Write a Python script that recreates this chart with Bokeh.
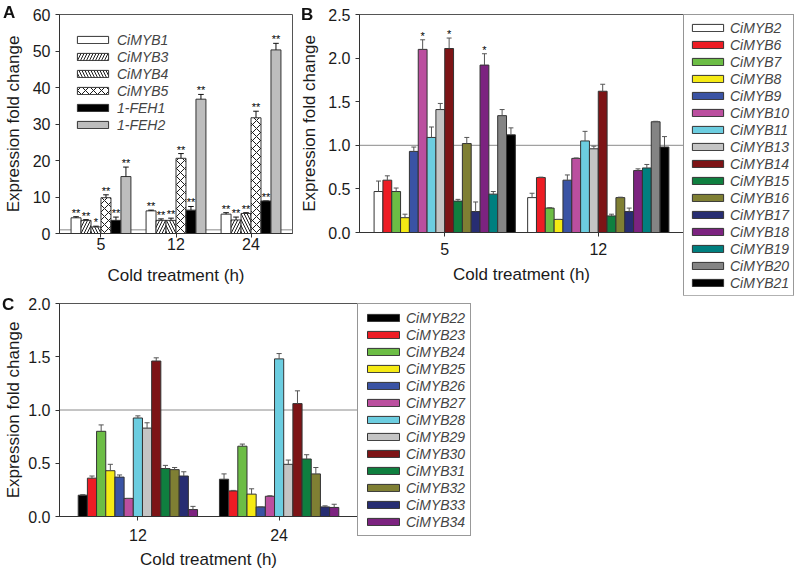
from bokeh.plotting import figure
from bokeh.models import (Range1d, FixedTicker, Span, Legend, LegendItem, Div,
                          ColumnDataSource, NumeralTickFormatter)
from bokeh.layouts import column, row
from bokeh.embed import file_html
from bokeh.resources import INLINE
from bokeh.core.properties import value

# ---------------- Panel A data ----------------
times_A = ["5", "12", "24"]
genes_A = ["CiMYB1", "CiMYB3", "CiMYB4", "CiMYB5", "1-FEH1", "1-FEH2"]
mean_A = [
    [4.3, 6.2, 5.3],
    [3.6, 3.6, 3.7],
    [1.8, 3.6, 5.5],
    [9.8, 20.6, 31.7],
    [3.6, 6.4, 8.9],
    [15.6, 36.8, 50.3],
]
err_A = [
    [0.3, 0.2, 0.4],
    [0.2, 0.4, 0.8],
    [0.2, 0.6, 0.2],
    [0.8, 1.3, 1.8],
    [0.9, 1.0, 0.0],
    [2.6, 1.3, 1.8],
]
sig_A = [
    ["**", "**", "**"],
    ["**", "**", "**"],
    ["*", "**", "**"],
    ["**", "**", "**"],
    ["**", "**", "**"],
    ["**", "**", "**"],
]

# ---------------- Panel B data ----------------
times_B = ["5", "12"]
genes_B = ["CiMYB2", "CiMYB6", "CiMYB7", "CiMYB8", "CiMYB9", "CiMYB10", "CiMYB11",
           "CiMYB13", "CiMYB14", "CiMYB15", "CiMYB16", "CiMYB17", "CiMYB18",
           "CiMYB19", "CiMYB20", "CiMYB21"]
mean_B = [
    [0.47, 0.40], [0.60, 0.63], [0.47, 0.28], [0.17, 0.15],
    [0.93, 0.60], [2.10, 0.85], [1.09, 1.05], [1.41, 0.96],
    [2.11, 1.62], [0.36, 0.19], [1.02, 0.40], [0.24, 0.24],
    [1.92, 0.71], [0.44, 0.74], [1.34, 1.27], [1.12, 0.98],
]
err_B = [
    [0.12, 0.05], [0.05, 0.005], [0.04, 0.005], [0.04, 0.0],
    [0.05, 0.06], [0.11, 0.005], [0.12, 0.11], [0.07, 0.03],
    [0.12, 0.08], [0.02, 0.02], [0.07, 0.005], [0.11, 0.04],
    [0.13, 0.02], [0.03, 0.04], [0.07, 0.005], [0.08, 0.12],
]
sig_B = [
    ["", ""], ["", ""], ["", ""], ["", ""],
    ["", ""], ["*", ""], ["", ""], ["", ""],
    ["*", ""], ["", ""], ["", ""], ["", ""],
    ["*", ""], ["", ""], ["", ""], ["", ""],
]

# ---------------- Panel C data ----------------
times_C = ["12", "24"]
genes_C = ["CiMYB22", "CiMYB23", "CiMYB24", "CiMYB25", "CiMYB26", "CiMYB27",
           "CiMYB28", "CiMYB29", "CiMYB30", "CiMYB31", "CiMYB32", "CiMYB33", "CiMYB34"]
mean_C = [
    [0.20, 0.35], [0.36, 0.24], [0.80, 0.66], [0.43, 0.21], [0.37, 0.09],
    [0.17, 0.19], [0.925, 1.48], [0.83, 0.49], [1.46, 1.06], [0.45, 0.54],
    [0.44, 0.40], [0.38, 0.09], [0.065, 0.085],
]
err_C = [
    [0.005, 0.05], [0.02, 0.005], [0.06, 0.02], [0.06, 0.05], [0.02, 0.0],
    [0.0, 0.005], [0.02, 0.05], [0.05, 0.04], [0.03, 0.12], [0.03, 0.04],
    [0.02, 0.06], [0.04, 0.01], [0.03, 0.03],
]
sig_C = [["", ""] for _ in genes_C]

panel_letters = ["A", "B", "C"]

# ---------------- styles ----------------
FONT = "Liberation Sans"
WHITE, RED, GREEN, YELLOW = "#ffffff", "#ed1c24", "#6cbd45", "#f5ea14"
BLUE, PINK, CYAN, LGRAY = "#3a53a4", "#bb4f9f", "#6ccde0", "#c4c4c4"
DRED, DGREEN, OLIVE, NAVY = "#7d1416", "#0f7f3f", "#7f7f33", "#272d72"
PURPLE, TEAL, GRAY, BLACK = "#7c2380", "#007f7f", "#848484", "#000000"

fill_A = [WHITE, WHITE, WHITE, WHITE, BLACK, "#bdbdbd"]
hatch_A = [None, "/", "\\", "x", None, None]
fill_B = [WHITE, RED, GREEN, YELLOW, BLUE, PINK, CYAN, LGRAY, DRED, DGREEN,
          OLIVE, NAVY, PURPLE, TEAL, GRAY, BLACK]
fill_C = [BLACK, RED, GREEN, YELLOW, BLUE, PINK, CYAN, LGRAY, DRED, DGREEN,
          OLIVE, NAVY, PURPLE]


def panel(times, genes, means, errs, sigs, fills, hatches, bar_w, ymax, yticks, yfmt,
          xpad, borders, fw, fh, err_color, ylab_standoff, xtick_standoff, xlab_standoff,
          hatch_scales=None):
    bl, br, bt, bb = borders
    p = figure(frame_width=fw, frame_height=fh,
               x_range=Range1d(-xpad, len(times) - 1 + xpad), y_range=Range1d(0, ymax),
               output_backend="svg", toolbar_location=None,
               min_border_left=bl, min_border_right=br,
               min_border_top=bt, min_border_bottom=bb)
    p.background_fill_color = "white"
    p.border_fill_color = "white"
    p.outline_line_color = "#555555"
    p.outline_line_width = 1
    p.xgrid.visible = False
    p.ygrid.visible = False

    p.add_layout(Span(location=1, dimension="width", line_color="#8a8a8a",
                      line_width=1, level="underlay"))

    n = len(genes)
    renderers = []
    for j, g in enumerate(genes):
        off = (j - (n - 1) / 2.0) * bar_w
        xs = [i + off for i in range(len(times))]
        tops = means[j]
        etop = [m + e for m, e in zip(means[j], errs[j])]
        cap = bar_w * 0.28
        src = ColumnDataSource(dict(x=xs, top=tops, etop=etop,
                                    cx0=[x - cap for x in xs], cx1=[x + cap for x in xs],
                                    sig=sigs[j]))
        kw = {}
        if hatches and hatches[j]:
            kw = dict(hatch_pattern=hatches[j], hatch_color="#1a1a1a",
                      hatch_scale=(hatch_scales[j] if hatch_scales else 6), hatch_weight=1)
        r = p.vbar(x="x", top="top", bottom=0, width=bar_w, source=src,
                   fill_color=fills[j], line_color="#333333", line_width=1, **kw)
        renderers.append(r)
        p.segment(x0="x", y0="top", x1="x", y1="etop", source=src,
                  line_color=err_color, line_width=1)
        p.segment(x0="cx0", y0="etop", x1="cx1", y1="etop", source=src,
                  line_color=err_color, line_width=1)
        p.text(x="x", y="etop", text="sig", source=src, text_align="center",
               text_baseline="alphabetic", y_offset=-4, text_font=value(FONT),
               text_font_size="11px", text_color="#000000")

    for ax in (p.xaxis[0], p.yaxis[0]):
        ax.axis_line_color = "#333333"
        ax.major_tick_line_color = "#333333"
        ax.minor_tick_line_color = None
        ax.major_tick_out = 4
        ax.major_tick_in = 0
        ax.major_label_text_font = FONT
        ax.major_label_text_font_size = "16px"
        ax.major_label_text_color = "#1a1a1a"
        ax.axis_label_text_font = FONT
        ax.axis_label_text_font_size = "17px"
        ax.axis_label_text_font_style = "normal"
        ax.axis_label_text_color = "#1a1a1a"

    p.xaxis.ticker = FixedTicker(ticks=list(range(len(times))))
    p.xaxis.major_label_overrides = {i: t for i, t in enumerate(times)}
    p.xaxis.axis_label = "Cold treatment (h)"
    p.xaxis.major_label_standoff = xtick_standoff
    p.xaxis.axis_label_standoff = xlab_standoff

    p.yaxis.ticker = FixedTicker(ticks=yticks)
    if yfmt:
        p.yaxis.formatter = NumeralTickFormatter(format=yfmt)
    p.yaxis.axis_label = "Expression fold change"
    p.yaxis.major_label_standoff = 5
    p.yaxis.axis_label_standoff = ylab_standoff
    return p, renderers


# ---- Panel A ----  (canvas x 0..294; frame 59..292 x 14..233)
pA, rA = panel(times_A, genes_A, mean_A, err_A, sig_A, fill_A, hatch_A, 0.133, 60,
               [0, 10, 20, 30, 40, 50, 60], None, 0.553, (59, 2, 14, 62), 233, 219,
               "#111111", 7, 0, 13, hatch_scales=[6, 6, 6, 8, 6, 6])
legA = Legend(items=[LegendItem(label=g, renderers=[r]) for g, r in zip(genes_A, rA)],
              location=(14, 100), label_text_font=FONT, label_text_font_style="italic",
              label_text_font_size="14px", glyph_width=39, glyph_height=9, label_height=17,
              spacing=0, padding=4, label_standoff=5, border_line_color=None,
              background_fill_alpha=0)
pA.add_layout(legA, "center")

# ---- Panel B ----  (canvas x 294..792; frame 359..683 x 14..232)
pB, rB = panel(times_B, genes_B, mean_B, err_B, sig_B, fill_B, None, 0.0575, 2.5,
               [0, 0.5, 1.0, 1.5, 2.0, 2.5], "0.0", 0.555, (65, 0, 14, 63), 324, 218,
               "#555555", 6, 6, 7)
legB = Legend(items=[LegendItem(label=g, renderers=[r]) for g, r in zip(genes_B, rB)],
              location="top_left", label_text_font=FONT, label_text_font_style="italic",
              label_text_font_size="14px", glyph_width=39, glyph_height=9, label_height=17,
              spacing=0, padding=4, margin=0, label_standoff=3, border_line_color="#333333",
              border_line_width=1)
pB.add_layout(legB, "right")

# ---- Panel C ----  (canvas y 295..572; frame 59..357 x 303..516)
pC, rC = panel(times_C, genes_C, mean_C, err_C, sig_C, fill_C, None, 0.065, 2.0,
               [0, 0.5, 1.0, 1.5, 2.0], "0.0", 0.555, (59, 0, 8, 56), 298, 213,
               "#555555", 2, 8, 6)
legC = Legend(items=[LegendItem(label=g, renderers=[r]) for g, r in zip(genes_C, rC)],
              location="top_left", label_text_font=FONT, label_text_font_style="italic",
              label_text_font_size="14px", glyph_width=40, glyph_height=9, label_height=17,
              spacing=0, padding=5, margin=0, label_standoff=3, border_line_color="#333333",
              border_line_width=1)
pC.add_layout(legC, "right")

# ---- panel letters (HTML text overlaid at fixed page positions) ----
letter_pos = [(3, 4), (301, 6), (2, 296)]
letter_html = "".join(
    '<div style="position:fixed; left:%dpx; top:%dpx; z-index:10; '
    "font-family:'Liberation Sans', Arial, sans-serif; font-weight:bold; "
    'font-size:17px; line-height:17px; color:#111111;">%s</div>' % (x, y, t)
    for t, (x, y) in zip(panel_letters, letter_pos))
letters = Div(text=letter_html, width=0, height=0,
              styles={"overflow": "visible", "z-index": "10"})

layout = column(row(pA, pB), pC, letters)
open("out.html", "w").write(file_html(layout, INLINE))
